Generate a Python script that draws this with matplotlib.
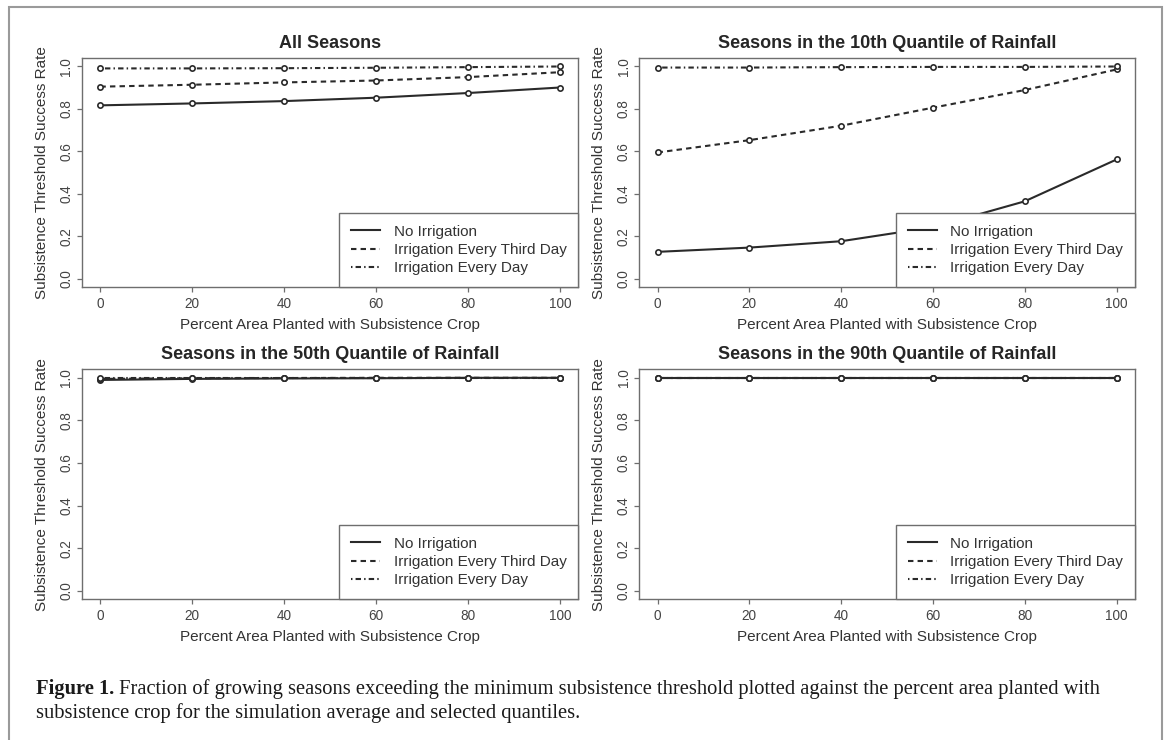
import matplotlib
matplotlib.use('Agg')
import matplotlib.pyplot as plt
from matplotlib.patches import Rectangle

plt.rcParams['font.family'] = ['Liberation Sans', 'DejaVu Sans']

# ---------------- data ----------------
pct_area = [0, 20, 40, 60, 80, 100]
series_names = ['No Irrigation', 'Irrigation Every Third Day', 'Irrigation Every Day']
panel_titles = ['All Seasons',
                'Seasons in the 10th Quantile of Rainfall',
                'Seasons in the 50th Quantile of Rainfall',
                'Seasons in the 90th Quantile of Rainfall']

all_no = [0.817, 0.826, 0.837, 0.853, 0.875, 0.901]
all_third = [0.905, 0.914, 0.925, 0.934, 0.950, 0.973]
all_daily = [0.991, 0.991, 0.992, 0.994, 0.997, 1.000]

q10_no = [0.127, 0.147, 0.177, 0.243, 0.365, 0.562]
q10_third = [0.595, 0.653, 0.721, 0.806, 0.889, 0.986]
q10_daily = [0.995, 0.995, 0.997, 0.998, 0.998, 1.000]

q50_no = [0.990, 0.995, 0.997, 0.998, 1.000, 1.000]
q50_third = [0.995, 0.998, 0.999, 1.000, 1.000, 1.000]
q50_daily = [1.000, 1.000, 1.000, 1.000, 1.000, 1.000]

q90_no = [1.000, 1.000, 1.000, 1.000, 1.000, 1.000]
q90_third = [1.000, 1.000, 1.000, 1.000, 1.000, 1.000]
q90_daily = [1.000, 1.000, 1.000, 1.000, 1.000, 1.000]

x_ticks = [0, 20, 40, 60, 80, 100]
y_ticks = [0.0, 0.2, 0.4, 0.6, 0.8, 1.0]
y_tick_labels = ['0.0', '0.2', '0.4', '0.6', '0.8', '1.0']

x_label = 'Percent Area Planted with Subsistence Crop'
y_label = 'Subsistence Threshold Success Rate'
caption_bold = 'Figure 1.'
caption_line1 = ' Fraction of growing seasons exceeding the minimum subsistence threshold plotted against the percent area planted with'
caption_line2 = 'subsistence crop for the simulation average and selected quantiles.'

panels = [
    (all_no, all_third, all_daily),
    (q10_no, q10_third, q10_daily),
    (q50_no, q50_third, q50_daily),
    (q90_no, q90_third, q90_daily),
]

# ---------------- style ----------------
W, H = 1168, 740
fig = plt.figure(figsize=(W / 100, H / 100), dpi=100)
fig.patch.set_facecolor('white')

LINE_C = '#2a2a2a'
BOX_C = '#6e6e6e'
TXT_C = '#333333'
LW = 1.5
styles = [
    dict(linestyle='-'),
    dict(linestyle=(0, (2.6, 2.0))),
    dict(linestyle=(0, (0.7, 1.5, 2.6, 1.5))),
]

# axes rectangles in pixel coordinates (left, top, right, bottom)
rects_px = [
    (82.0, 58.0, 578.3, 287.3),
    (639.2, 58.0, 1134.9, 287.3),
    (82.0, 369.3, 578.3, 599.3),
    (639.2, 369.3, 1134.9, 599.3),
]

for i, (rect, data, title) in enumerate(zip(rects_px, panels, panel_titles)):
    l, t, r, b = rect
    ax = fig.add_axes([l / W, 1 - b / H, (r - l) / W, (b - t) / H])
    wpx, hpx = r - l, b - t
    handles = []
    for vals, name, st in zip(data, series_names, styles):
        h, = ax.plot(pct_area, vals, color=LINE_C, lw=LW, marker='o', ms=3.8,
                     mfc='white', mec=LINE_C, mew=1.2, label=name, **st)
        handles.append(h)
    ax.set_xlim(-4, 104)
    ax.set_ylim(-0.04, 1.04)
    ax.set_xticks(x_ticks)
    ax.set_yticks(y_ticks)
    ax.set_yticklabels(y_tick_labels)
    for sp in ax.spines.values():
        sp.set_color(BOX_C)
        sp.set_linewidth(1.0)
    ax.tick_params(axis='both', direction='out', length=3.6, width=0.9,
                   color=BOX_C, labelcolor='#444444', labelsize=9.8)
    ax.tick_params(axis='x', pad=3.6)
    ax.tick_params(axis='y', pad=2.6, labelrotation=90)
    for lab in ax.get_yticklabels():
        lab.set_va('center')

    ax.set_xlabel(x_label, fontsize=11, color=TXT_C, va='center')
    ax.xaxis.set_label_coords(0.5, -37.5 / hpx)
    ax.set_ylabel(y_label, fontsize=11, color=TXT_C, va='center')
    ax.yaxis.set_label_coords(-40.0 / wpx, 0.5)
    ax.set_title(title, fontsize=13, fontweight='bold', color='#262626',
                 y=1 + 15.0 / hpx, pad=0, va='center')

    leg = ax.legend(handles=handles, loc='lower right', bbox_to_anchor=(1, 0),
                    borderaxespad=0, fontsize=11, frameon=True, fancybox=False,
                    edgecolor=BOX_C, framealpha=1, borderpad=0.78,
                    labelspacing=0.29, handlelength=1.9, handletextpad=0.86)
    leg.get_frame().set_linewidth(1.0)
    for txt in leg.get_texts():
        txt.set_color(TXT_C)
    for lh in leg.legend_handles:
        lh.set_marker('')

# outer frame of the figure block
fig.add_artist(Rectangle((8.7 / W, -0.05), (1161.7 - 8.7) / W, 1.05 - 7.0 / H,
                         transform=fig.transFigure, fill=False,
                         edgecolor='#9a9a9a', linewidth=1.5, clip_on=False))

# caption
cap_font = ['Liberation Serif', 'DejaVu Serif']
cap_size = 14.75
cx = 36.0 / W
t1 = fig.text(cx, 1 - 694.0 / H, caption_bold, family=cap_font, fontsize=cap_size,
              fontweight='bold', color='#1a1a1a', va='baseline', ha='left')
fig.canvas.draw()
bb = t1.get_window_extent(renderer=fig.canvas.get_renderer())
fig.text(bb.x1 / W, 1 - 694.0 / H, caption_line1, family=cap_font, fontsize=cap_size,
         color='#1a1a1a', va='baseline', ha='left')
fig.text(cx, 1 - 718.0 / H, caption_line2, family=cap_font, fontsize=cap_size,
         color='#1a1a1a', va='baseline', ha='left')

fig.savefig('out.png', dpi=100, facecolor='white')
